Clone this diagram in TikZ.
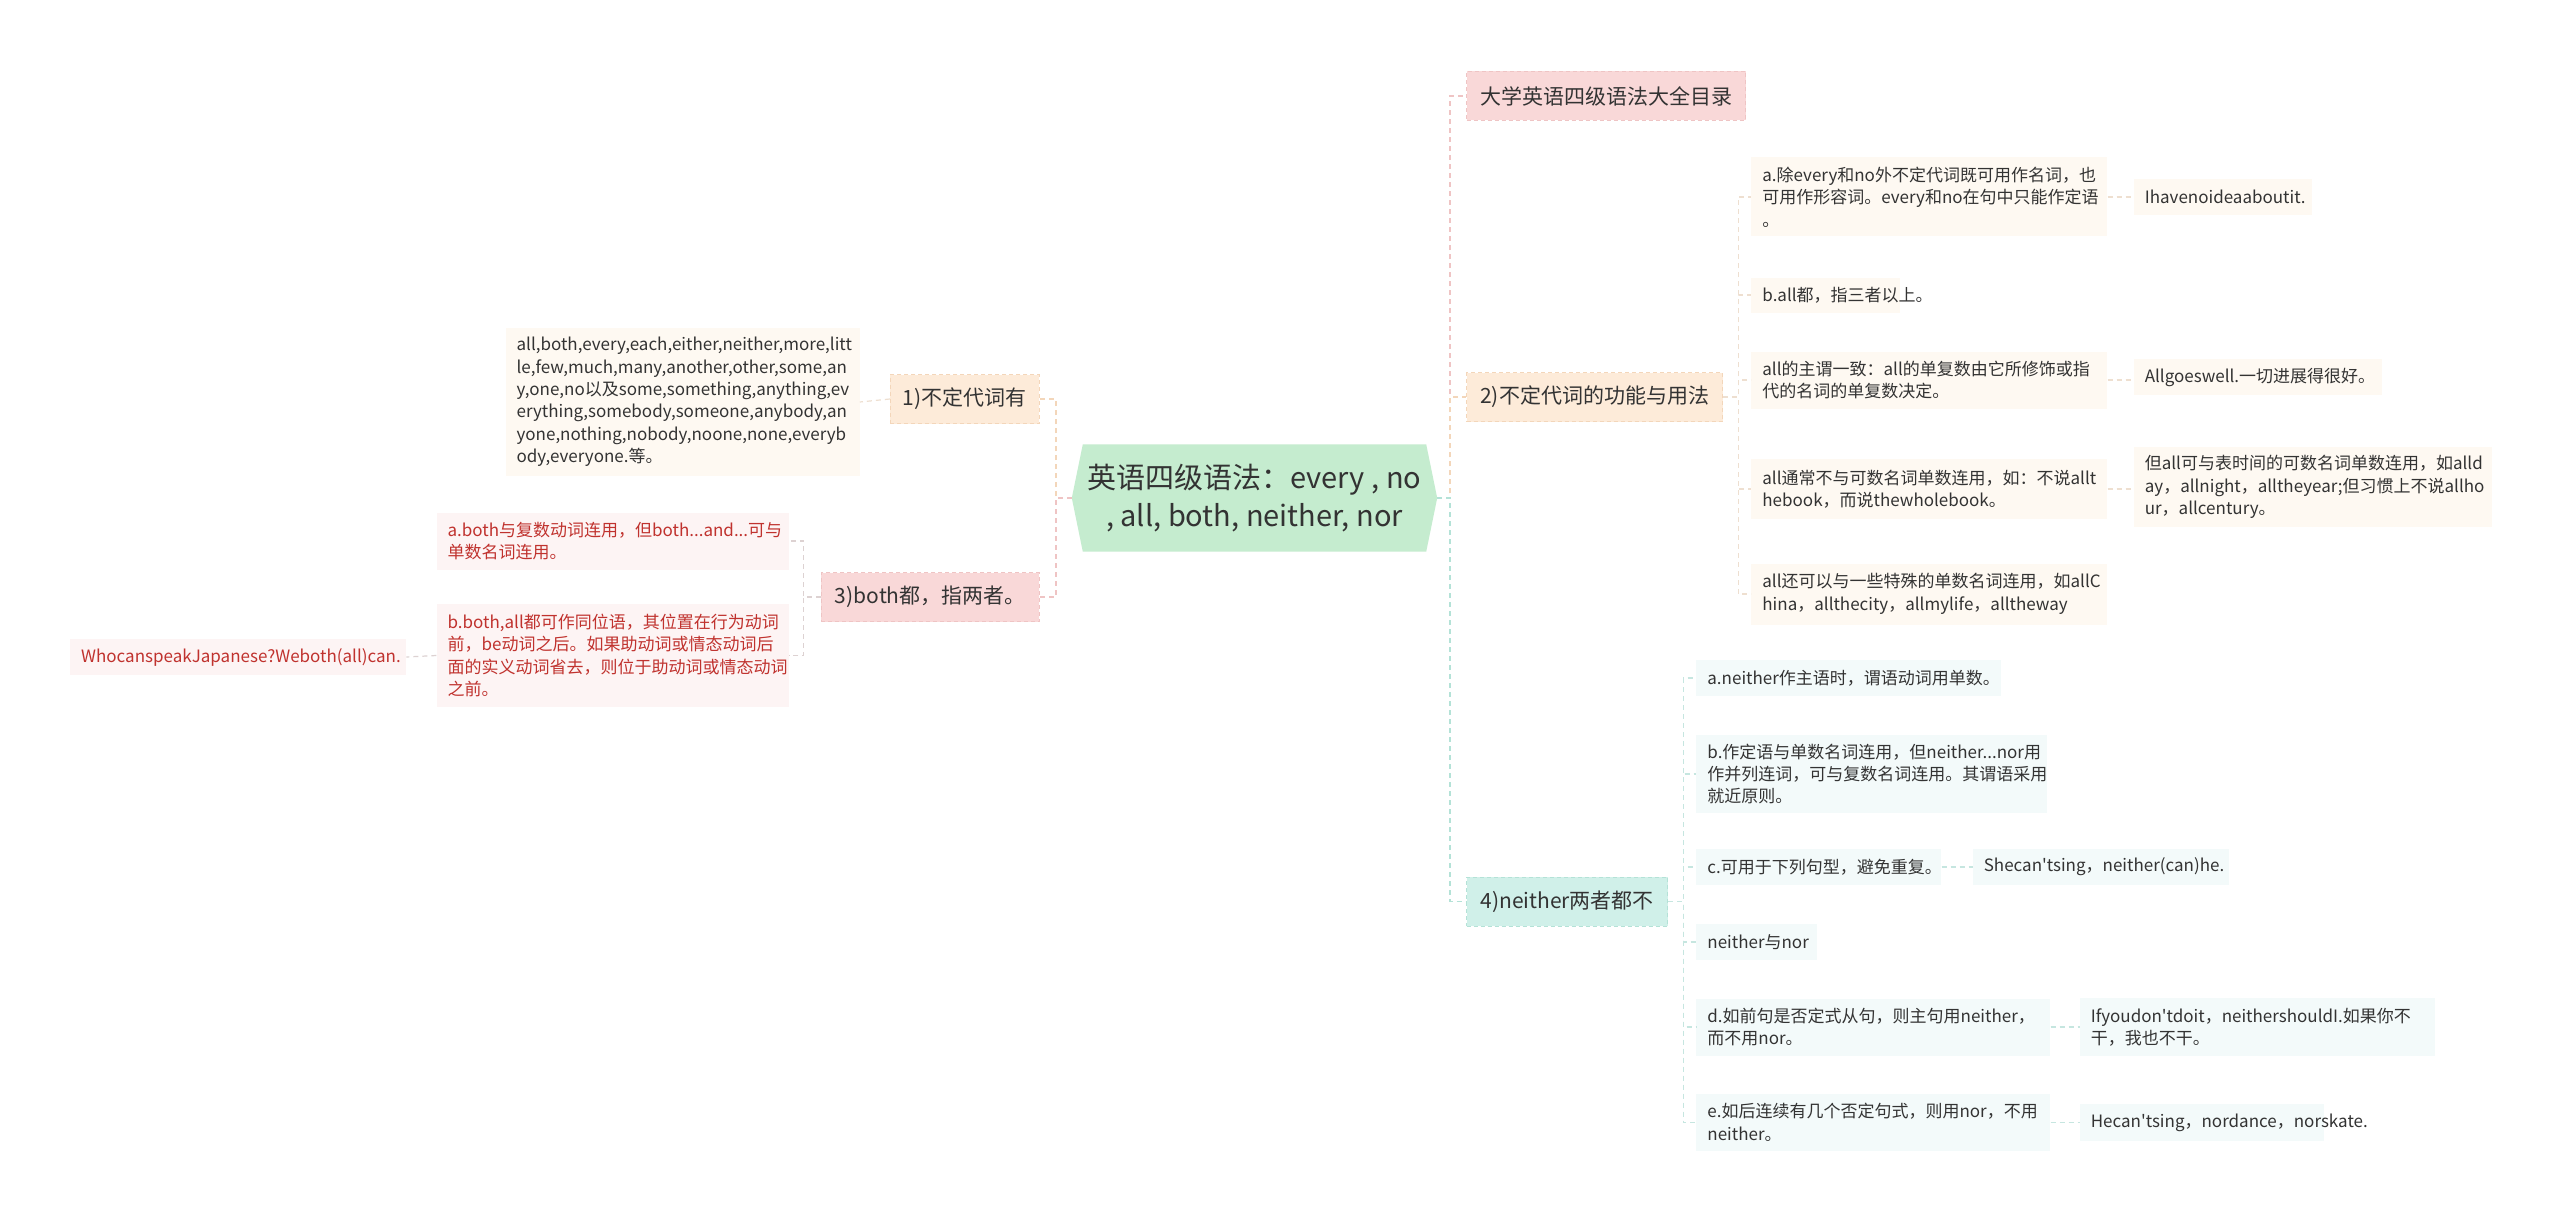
\documentclass[tikz,border=0pt]{standalone}
\usepackage{fontspec}
\newfontfamily\cjk{Noto Sans CJK SC}
\usetikzlibrary{positioning,backgrounds}

\definecolor{textdark}{HTML}{333333}
\definecolor{redtext}{HTML}{C0322E}
\definecolor{rootfill}{HTML}{C5ECCF}
\definecolor{pinkfill}{HTML}{F9D8D8}
\definecolor{peachfill}{HTML}{FDEBD9}
\definecolor{tealfill}{HTML}{D0F0E9}
\definecolor{pinkline}{HTML}{EFC4C4}
\definecolor{peachline}{HTML}{F3D6BA}
\definecolor{tealline}{HTML}{B4E2D7}
\definecolor{pinkleaf}{HTML}{FDF4F4}
\definecolor{peachleaf}{HTML}{FEF9F2}
\definecolor{tealleaf}{HTML}{F3FAFA}
\definecolor{pinksub}{HTML}{DDD2D2}
\definecolor{peachsub}{HTML}{EEDFD0}
\definecolor{tealsub}{HTML}{C6E6E0}

\begin{document}
\begin{tikzpicture}[x=1pt, y=-1pt,
    rootnode/.style={rectangle, minimum width=365pt, minimum height=107pt, inner sep=0pt, align=center, text=textdark, font=\cjk\fontsize{29}{37.5}\selectfont},
    topic/.style={rectangle, fill=#1fill, draw=#1line, dash pattern=on 4pt off 3pt, line width=1pt, minimum height=49pt, inner xsep=11pt, text=textdark, font=\cjk\fontsize{21}{26}\selectfont},
    leaf/.style={rectangle, fill=#1, inner xsep=11pt, inner ysep=8pt, align=left, text=textdark, font=\cjk\fontsize{17}{22.4}\selectfont},
    leafred/.style={leaf=pinkleaf, text=redtext},
    link/.style={draw=#1, line width=1.5pt, dash pattern=on 5pt off 4pt},
    sublink/.style={draw=#1, line width=1.2pt, dash pattern=on 5pt off 4pt}]

    % Canvas
    \useasboundingbox (0,0) rectangle (2560,1225);

    % Root
    \node (root) [rootnode] at (1254.5,498) {英语四级语法：every , no\\, all, both, neither, nor};
    \begin{scope}[on background layer]
      \fill[white] (0,0) rectangle (2560,1225);
      \fill[rootfill] (root.west) -- ([xshift=11pt]root.north west) -- ([xshift=-11pt]root.north east) -- (root.east) -- ([xshift=-11pt]root.south east) -- ([xshift=11pt]root.south west) -- cycle;
    \end{scope}

    % Main topics
    \node (one) [topic=peach, minimum width=149pt, left=32pt of root, yshift=99pt] {1)不定代词有};
    \node (three) [topic=pink, minimum width=218pt, left=32pt of root, yshift=-99pt] {3)both都，指两者。};
    \node (cat) [topic=pink, minimum width=279pt, right=29pt of root, yshift=402pt] {大学英语四级语法大全目录};
    \node (two) [topic=peach, minimum width=256pt, right=29pt of root, yshift=101pt] {2)不定代词的功能与用法};
    \node (four) [topic=teal, minimum width=201pt, right=29pt of root, yshift=-403.5pt] {4)neither两者都不};

    % Left leaves
    \node (list) [leaf=peachleaf, text width=332pt, minimum height=148pt, left=30pt of one, yshift=-3pt] {all,both,every,each,either,neither,more,litt\\le,few,much,many,another,other,some,an\\y,one,no以及some,something,anything,ev\\erything,somebody,someone,anybody,an\\yone,nothing,nobody,noone,none,everyb\\ody,everyone.等。};
    \node (aboth) [leafred, text width=330pt, minimum height=57pt, left=32pt of three, yshift=56pt] {a.both与复数动词连用，但both...and...可与\\单数名词连用。};
    \node (bboth) [leafred, text width=330pt, minimum height=103pt, left=32pt of three, yshift=-58.5pt] {b.both,all都可作同位语，其位置在行为动词\\前，be动词之后。如果助动词或情态动词后\\面的实义动词省去，则位于助动词或情态动词\\之前。};
    \node (who) [leafred, text width=314pt, minimum height=36pt, left=30pt of bboth, yshift=-1.5pt] {WhocanspeakJapanese?Weboth(all)can.};

    % Leaves of 2)
    \node (twoa) [leaf=peachleaf, text width=334pt, minimum height=79pt, right=28pt of two, yshift=200pt] {a.除every和no外不定代词既可用作名词，也\\可用作形容词。every和no在句中只能作定语\\。};
    \node (twob) [leaf=peachleaf, text width=127pt, minimum height=35pt, right=28pt of two, yshift=102pt] {b.all都，指三者以上。};
    \node (twoc) [leaf=peachleaf, text width=334pt, minimum height=57pt, right=28pt of two, yshift=17pt] {all的主谓一致：all的单复数由它所修饰或指\\代的名词的单复数决定。};
    \node (twod) [leaf=peachleaf, text width=334pt, minimum height=60pt, right=28pt of two, yshift=-92pt] {all通常不与可数名词单数连用，如：不说allt\\hebook，而说thewholebook。};
    \node (twoe) [leaf=peachleaf, text width=334pt, minimum height=61pt, right=28pt of two, yshift=-197pt] {all还可以与一些特殊的单数名词连用，如allC\\hina，allthecity，allmylife，alltheway};
    \node (idea) [leaf=peachleaf, text width=156pt, minimum height=36pt, right=26pt of twoa] {Ihavenoideaaboutit.};
    \node (goes) [leaf=peachleaf, text width=226pt, minimum height=36pt, right=26pt of twoc, yshift=3pt] {Allgoeswell.一切进展得很好。};
    \node (allday) [leaf=peachleaf, text width=336pt, minimum height=77pt, right=26pt of twod, yshift=2pt] {但all可与表时间的可数名词单数连用，如alld\\ay，allnight，alltheyear;但习惯上不说allho\\ur，allcentury。};

    % Leaves of 4)
    \node (foura) [leaf=tealleaf, text width=283pt, minimum height=36pt, right=28pt of four, yshift=223.5pt] {a.neither作主语时，谓语动词用单数。};
    \node (fourb) [leaf=tealleaf, text width=329pt, minimum height=78pt, right=28pt of four, yshift=127.5pt] {b.作定语与单数名词连用，但neither...nor用\\作并列连词，可与复数名词连用。其谓语采用\\就近原则。};
    \node (fourc) [leaf=tealleaf, text width=223pt, minimum height=36pt, right=28pt of four, yshift=34.5pt] {c.可用于下列句型，避免重复。};
    \node (fourn) [leaf=tealleaf, text width=99pt, minimum height=36pt, right=28pt of four, yshift=-40.5pt] {neither与nor};
    \node (fourd) [leaf=tealleaf, text width=332pt, minimum height=57pt, right=28pt of four, yshift=-125.5pt] {d.如前句是否定式从句，则主句用neither，\\而不用nor。};
    \node (foure) [leaf=tealleaf, text width=332pt, minimum height=57pt, right=28pt of four, yshift=-221pt] {e.如后连续有几个否定句式，则用nor，不用\\neither。};
    \node (she) [leaf=tealleaf, text width=234pt, minimum height=36pt, right=31pt of fourc] {Shecan'tsing，neither(can)he.};
    \node (ifyou) [leaf=tealleaf, text width=333pt, minimum height=58pt, right=29pt of fourd] {Ifyoudon'tdoit，neithershouldI.如果你不\\干，我也不干。};
    \node (hecant) [leaf=tealleaf, text width=222pt, minimum height=37pt, right=29pt of foure] {Hecan'tsing，nordance，norskate.};

    % Links from root
    \draw[link=peachline] (root.west) -- ++(-16,0) |- (one.east);
    \draw[link=pinkline] (root.west) -- ++(-16,0) |- (three.east);
    \draw[link=pinkline] (root.east) -- ++(13,0) |- (cat.west);
    \draw[link=peachline] (root.east) -- ++(13,0) |- (two.west);
    \draw[link=tealline] (root.east) -- ++(13,0) |- (four.west);

    % Links on the left
    \draw[sublink=peachsub] (one.west) -- (list.east);
    \draw[sublink=pinksub] (three.west) -- ++(-17,0) |- (aboth.east);
    \draw[sublink=pinksub] (three.west) -- ++(-17,0) |- (bboth.east);
    \draw[sublink=pinksub] (bboth.west) -- (who.east);

    % Links of 2)
    \draw[sublink=peachsub] (two.east) -- ++(15,0) |- (twoa.west);
    \draw[sublink=peachsub] (two.east) -- ++(15,0) |- (twob.west);
    \draw[sublink=peachsub] (two.east) -- ++(15,0) |- (twoc.west);
    \draw[sublink=peachsub] (two.east) -- ++(15,0) |- (twod.west);
    \draw[sublink=peachsub] (two.east) -- ++(15,0) |- (twoe.west);
    \draw[sublink=peachsub] (twoa.east) -- (idea.west);
    \draw[sublink=peachsub] (twoc.east) -- (goes.west |- twoc.east);
    \draw[sublink=peachsub] (twod.east) -- (allday.west |- twod.east);

    % Links of 4)
    \draw[sublink=tealsub] (four.east) -- ++(15,0) |- (foura.west);
    \draw[sublink=tealsub] (four.east) -- ++(15,0) |- (fourb.west);
    \draw[sublink=tealsub] (four.east) -- ++(15,0) |- (fourc.west);
    \draw[sublink=tealsub] (four.east) -- ++(15,0) |- (fourn.west);
    \draw[sublink=tealsub] (four.east) -- ++(15,0) |- (fourd.west);
    \draw[sublink=tealsub] (four.east) -- ++(15,0) |- (foure.west);
    \draw[sublink=tealsub] (fourc.east) -- (she.west);
    \draw[sublink=tealsub] (fourd.east) -- (ifyou.west);
    \draw[sublink=tealsub] (foure.east) -- (hecant.west);
\end{tikzpicture}
\end{document}
